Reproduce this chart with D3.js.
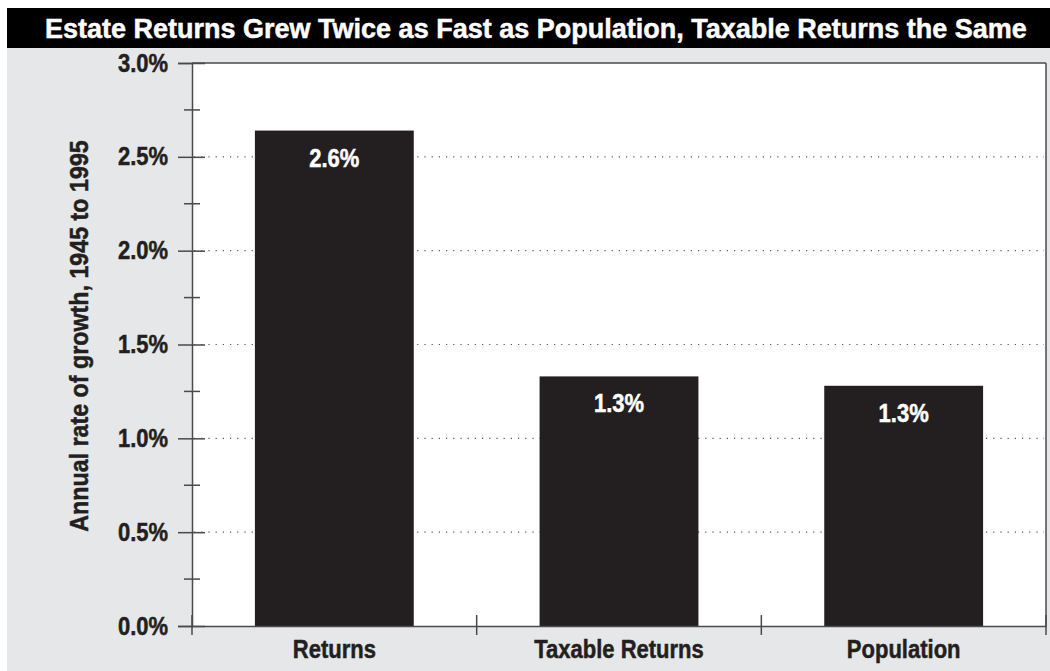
<!DOCTYPE html>
<html>
<head>
<meta charset="utf-8">
<script src="https://cdn.jsdelivr.net/npm/d3@7"></script>
<style>
  body { margin: 0; background: #fff; }
  svg { display: block; }
  text { font-family: "Liberation Sans", Arial, Helvetica, sans-serif; font-weight: bold; }
</style>
</head>
<body>
<svg id="chart" width="1050" height="671"></svg>
<script>
// Annual growth rates, 1945 to 1995 (percent per year)
const categories = ["Returns", "Taxable Returns", "Population"];
const growthRates = [2.64, 1.33, 1.28];

// Y axis ticks (percent)
const yMajorTicks = [0, 0.5, 1.0, 1.5, 2.0, 2.5, 3.0];
const yMinorTicks = [0.25, 0.75, 1.25, 1.75, 2.25, 2.75];
const yDomain = [0, 3.0];

const titleText = "Estate Returns Grew Twice as Fast as Population, Taxable Returns the Same";
const yAxisTitle = "Annual rate of growth, 1945 to 1995";

const svg = d3.select("#chart");
const W = 1050, H = 671;
const panel = { x: 7, y: 8 };
const plot = { left: 192, right: 1046, top: 63, bottom: 626 };

const ink = "#231f20";
const frame = "#4a4a4a";

// Squeeze a text selection horizontally to mimic a condensed face
function condense(sel, k) {
  sel.each(function () {
    const len = this.getComputedTextLength();
    d3.select(this)
      .attr("textLength", (len * k).toFixed(1))
      .attr("lengthAdjust", "spacingAndGlyphs");
  });
}

// Thicken glyphs slightly for a heavier weight
function heavy(sel, color, w) {
  sel.attr("stroke", color).attr("stroke-width", w).attr("paint-order", "stroke");
}

// Gray panel and black title band
svg.append("rect")
  .attr("x", panel.x).attr("y", panel.y)
  .attr("width", W - panel.x).attr("height", H - panel.y)
  .attr("fill", "#e6e7e8");
svg.append("rect")
  .attr("x", panel.x).attr("y", panel.y)
  .attr("width", W - panel.x).attr("height", 40)
  .attr("fill", "#000");

svg.append("text")
  .attr("x", 45).attr("y", 38)
  .attr("fill", "#fff")
  .attr("font-size", 27)
  .text(titleText)
  .call(heavy, "#fff", 0.5);

// Scales
const x = d3.scaleBand()
  .domain(categories)
  .range([plot.left, plot.right])
  .paddingInner(0.442)
  .paddingOuter(0.221);
const bandStep = (plot.right - plot.left) / categories.length;

const y = d3.scaleLinear().domain(yDomain).range([plot.bottom, plot.top]);

// Plot background
svg.append("rect")
  .attr("x", plot.left).attr("y", plot.top)
  .attr("width", plot.right - plot.left).attr("height", plot.bottom - plot.top)
  .attr("fill", "#fff");

// Dotted gridlines at major ticks
svg.append("g")
  .selectAll("line")
  .data(yMajorTicks.filter(v => v > 0 && v < yDomain[1]))
  .join("line")
  .attr("x1", plot.left + 2).attr("x2", plot.right - 2)
  .attr("y1", d => y(d)).attr("y2", d => y(d))
  .attr("stroke", "#555")
  .attr("stroke-width", 1.2)
  .attr("stroke-dasharray", "1.2,6");

// Bars
svg.append("g")
  .selectAll("rect")
  .data(categories)
  .join("rect")
  .attr("x", d => x(d))
  .attr("width", x.bandwidth())
  .attr("y", (d, i) => y(growthRates[i]))
  .attr("height", (d, i) => y(0) - y(growthRates[i]))
  .attr("fill", ink);

// Value labels inside bars
svg.append("g")
  .selectAll("text")
  .data(categories)
  .join("text")
  .attr("x", d => x(d) + x.bandwidth() / 2)
  .attr("y", (d, i) => y(growthRates[i]) + 36)
  .attr("text-anchor", "middle")
  .attr("fill", "#fff")
  .attr("font-size", 25)
  .text((d, i) => growthRates[i].toFixed(1) + "%")
  .call(condense, 0.88)
  .call(heavy, "#fff", 0.5);

// Frame: top and right borders
svg.append("line")
  .attr("x1", plot.left).attr("x2", plot.right)
  .attr("y1", plot.top).attr("y2", plot.top)
  .attr("stroke", frame).attr("stroke-width", 1.5);
svg.append("line")
  .attr("x1", plot.right).attr("x2", plot.right)
  .attr("y1", plot.top).attr("y2", plot.bottom)
  .attr("stroke", frame).attr("stroke-width", 1.5);

// Y axis with major ticks crossing the axis line
const yAxis = d3.axisLeft(y)
  .tickValues(yMajorTicks)
  .tickSize(14)
  .tickPadding(10)
  .tickFormat(d => d.toFixed(1) + "%");
const yg = svg.append("g")
  .attr("transform", `translate(${plot.left},0)`)
  .call(yAxis);
yg.attr("font-family", null).attr("font-size", null);
yg.select(".domain").attr("stroke", frame).attr("stroke-width", 1.5);
yg.selectAll(".tick line")
  .attr("x2", -14).attr("x1", 13)
  .attr("stroke", frame).attr("stroke-width", 1.5);
yg.selectAll(".tick text")
  .attr("fill", ink)
  .attr("font-size", 25)
  .call(condense, 0.88)
  .call(heavy, ink, 0.5);

// Minor ticks
svg.append("g")
  .selectAll("line")
  .data(yMinorTicks)
  .join("line")
  .attr("x1", plot.left - 8).attr("x2", plot.left + 8)
  .attr("y1", d => y(d)).attr("y2", d => y(d))
  .attr("stroke", frame).attr("stroke-width", 1.5);

// X axis: ticks at the category boundaries
const xAxis = d3.axisBottom(x).tickSize(0).tickPadding(13);
const xg = svg.append("g")
  .attr("transform", `translate(0,${plot.bottom})`)
  .call(xAxis);
xg.attr("font-family", null).attr("font-size", null);
xg.select(".domain").attr("stroke", frame).attr("stroke-width", 1.5);
xg.selectAll(".tick text")
  .attr("fill", ink)
  .attr("font-size", 25)
  .attr("dy", "0.75em")
  .call(condense, 0.88)
  .call(heavy, ink, 0.5);

const boundaries = d3.range(categories.length + 1).map(i => plot.left + i * bandStep);
xg.append("g")
  .selectAll("line")
  .data(boundaries)
  .join("line")
  .attr("x1", d => d).attr("x2", d => d)
  .attr("y1", -11).attr("y2", 9)
  .attr("stroke", frame).attr("stroke-width", 1.5);

// Y axis title
svg.append("text")
  .attr("transform", "translate(88,336) rotate(-90)")
  .attr("text-anchor", "middle")
  .attr("fill", ink)
  .attr("font-size", 25)
  .text(yAxisTitle)
  .call(condense, 0.93)
  .call(heavy, ink, 0.5);
</script>
</body>
</html>
